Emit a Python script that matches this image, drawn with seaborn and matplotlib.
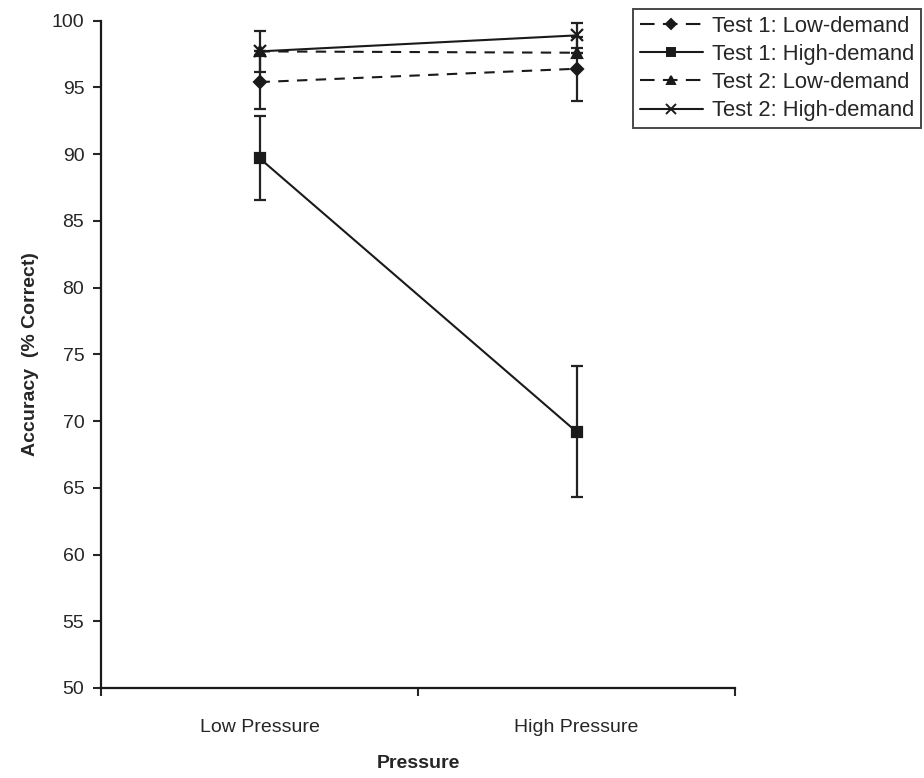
import seaborn as sns
import matplotlib.pyplot as plt
from matplotlib.lines import Line2D
import pandas as pd
import numpy as np

# values
conditions = ['Low Pressure', 'High Pressure']
series = ['Test 1: Low-demand', 'Test 1: High-demand',
          'Test 2: Low-demand', 'Test 2: High-demand']
t1_low = [95.4, 96.4]
t1_high = [89.7, 69.2]
t2_low = [97.7, 97.6]
t2_high = [97.7, 98.9]
t1_low_err = [2.05, 2.4]
t1_high_err = [3.15, 4.9]
t2_low_err = [0.0, 0.0]
t2_high_err = [1.55, 0.95]

values = [t1_low, t1_high, t2_low, t2_high]
errors = [t1_low_err, t1_high_err, t2_low_err, t2_high_err]

rows = []
for s, v, e in zip(series, values, errors):
    for i, c in enumerate(conditions):
        rows.append({'series': s, 'cond': c, 'x': i + 0.5, 'acc': v[i], 'err': e[i]})
df = pd.DataFrame(rows)

markers = {series[0]: 'D', series[1]: 's', series[2]: '^', series[3]: 'x'}
msizes = {series[0]: 6.5, series[1]: 7.5, series[2]: 7, series[3]: 8}
dashed = {series[0]: True, series[1]: False, series[2]: True, series[3]: False}

sns.set_style("ticks")
plt.rcParams['font.family'] = ['Liberation Sans', 'DejaVu Sans']

fig = plt.figure(figsize=(9.24, 7.78), dpi=100)
ax = fig.add_axes([101 / 924, 1 - 688 / 778, (735 - 101) / 924, (688 - 20.7) / 778])

for s in series:
    d = df[df.series == s]
    ax.errorbar(d.x, d.acc, yerr=d.err, fmt='none', ecolor='#222222',
                elinewidth=1.6, capsize=4.5, capthick=1.6, zorder=2)
    sns.lineplot(data=d, x='x', y='acc', ax=ax, color='#1a1a1a', lw=1.5,
                 marker=markers[s], markersize=msizes[s], markeredgewidth=1.6,
                 markeredgecolor='#1a1a1a',
                 linestyle=(0, (5, 4)) if dashed[s] else '-', legend=False, zorder=3)

ax.set_xlim(0, 2)
ax.set_ylim(50, 100)
ax.set_yticks(np.arange(50, 101, 5))
ax.set_xticks([0, 1, 2])
ax.set_xticklabels([])
ax.set_xticks([0.5, 1.5], minor=True)
ax.set_xticklabels(conditions, minor=True)
ax.tick_params(axis='x', which='minor', length=0, pad=22, labelsize=14)
ax.tick_params(axis='x', which='major', length=6, width=1.5, direction='out')
ax.tick_params(axis='y', length=6, width=1.5, labelsize=14, pad=6)
for sp in ['left', 'bottom']:
    ax.spines[sp].set_linewidth(1.6)
    ax.spines[sp].set_color('#1a1a1a')
sns.despine(ax=ax)

ax.set_xlabel('Pressure', fontsize=14, fontweight='bold', labelpad=14)
ax.set_ylabel('Accuracy  (% Correct)', fontsize=14, fontweight='bold', labelpad=9)

handles = []
for s in series:
    handles.append(Line2D([], [], color='#1a1a1a', lw=1.5,
                          linestyle=(0, (7, 4)) if dashed[s] else '-',
                          marker=markers[s], markersize=msizes[s] * 0.85,
                          markeredgewidth=1.4))
leg = fig.legend(handles, series, loc='upper left', bbox_to_anchor=(633 / 924, 1 - 9 / 778),
                 frameon=True, fancybox=False, fontsize=15.8, handlelength=2.9,
                 handletextpad=0.4, labelspacing=0.33, borderpad=0.3, borderaxespad=0)
leg.get_frame().set_edgecolor('#1a1a1a')
leg.get_frame().set_linewidth(1.4)

fig.savefig('out.png', dpi=100)
